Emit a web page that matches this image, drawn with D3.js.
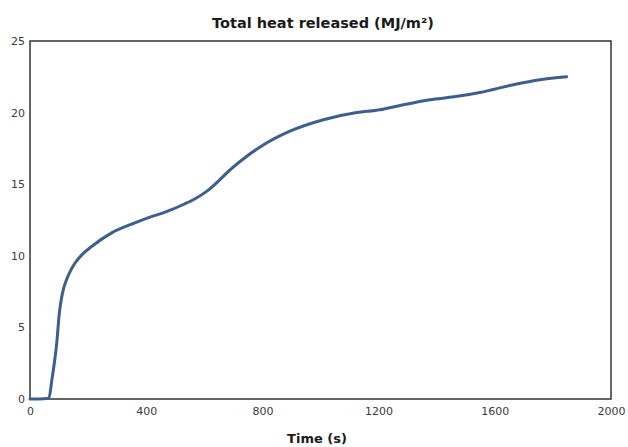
<!DOCTYPE html>
<html>
<head>
<meta charset="utf-8">
<script src="https://cdn.jsdelivr.net/npm/d3@7"></script>
<style>
  html, body { margin: 0; padding: 0; background: #fff; }
  svg { display: block; font-family: "DejaVu Sans", Verdana, sans-serif; }
</style>
</head>
<body>
<svg id="chart" width="628" height="447"></svg>
<script>
// values
const times = [0, 30, 65, 75, 92, 101, 109, 116, 126, 138, 155, 180, 212, 281, 361, 413, 465, 530, 570, 608, 700, 792, 895, 1010, 1125, 1205, 1274, 1377, 1460, 1549, 1664, 1756, 1847];
const heat = [0, 0, 0.05, 1.3, 3.9, 6.0, 7.1, 7.75, 8.35, 8.9, 9.5, 10.1, 10.65, 11.6, 12.3, 12.7, 13.05, 13.6, 14.0, 14.5, 16.2, 17.6, 18.7, 19.5, 20.0, 20.2, 20.5, 20.9, 21.1, 21.4, 21.95, 22.3, 22.5];
const xTicks = [0, 400, 800, 1200, 1600, 2000];
const yTicks = [0, 5, 10, 15, 20, 25];
const title = "Total heat released (MJ/m\u00b2)";
const xLabel = "Time (s)";

const margin = { top: 41, right: 17, bottom: 48, left: 30 };
const svg = d3.select("#chart");
const width = +svg.attr("width");
const height = +svg.attr("height");
const innerW = width - margin.left - margin.right;
const innerH = height - margin.top - margin.bottom;

const x = d3.scaleLinear().domain([0, 2000]).range([0, innerW]);
const y = d3.scaleLinear().domain([0, 25]).range([innerH, 0]);

const g = svg.append("g").attr("transform", `translate(${margin.left},${margin.top})`);

// axes without tick marks, labels only
const xAxis = g.append("g").attr("transform", `translate(0,${innerH})`)
  .call(d3.axisBottom(x).tickValues(xTicks).tickSize(0).tickPadding(8).tickFormat(d3.format("d")));
const yAxis = g.append("g")
  .call(d3.axisLeft(y).tickValues(yTicks).tickSize(0).tickPadding(5).tickFormat(d3.format("d")));
[xAxis, yAxis].forEach(axis => {
  axis.select(".domain").remove();
  axis.selectAll("text").attr("fill", "#3a3a3a").attr("font-size", "11px").attr("font-family", "DejaVu Sans, sans-serif");
});

// frame
g.append("rect").attr("width", innerW).attr("height", innerH)
  .attr("fill", "none").attr("stroke", "#333").attr("stroke-width", 1.5);

const points = times.map((t, i) => ({ t, v: heat[i] }));
const line = d3.line().x(d => x(d.t)).y(d => y(d.v)).curve(d3.curveMonotoneX);
g.append("path").datum(points).attr("d", line)
  .attr("fill", "none").attr("stroke", "#3d5f8c").attr("stroke-width", 3)
  .attr("stroke-linejoin", "round").attr("stroke-linecap", "round");

svg.append("text").attr("x", 323).attr("y", 28)
  .attr("text-anchor", "middle").attr("font-weight", "bold").attr("font-size", "14.5px")
  .attr("fill", "#1a1a1a").text(title);

svg.append("text").attr("x", 317).attr("y", 443)
  .attr("text-anchor", "middle").attr("font-weight", "bold").attr("font-size", "13px")
  .attr("fill", "#1a1a1a").text(xLabel);
</script>
</body>
</html>
